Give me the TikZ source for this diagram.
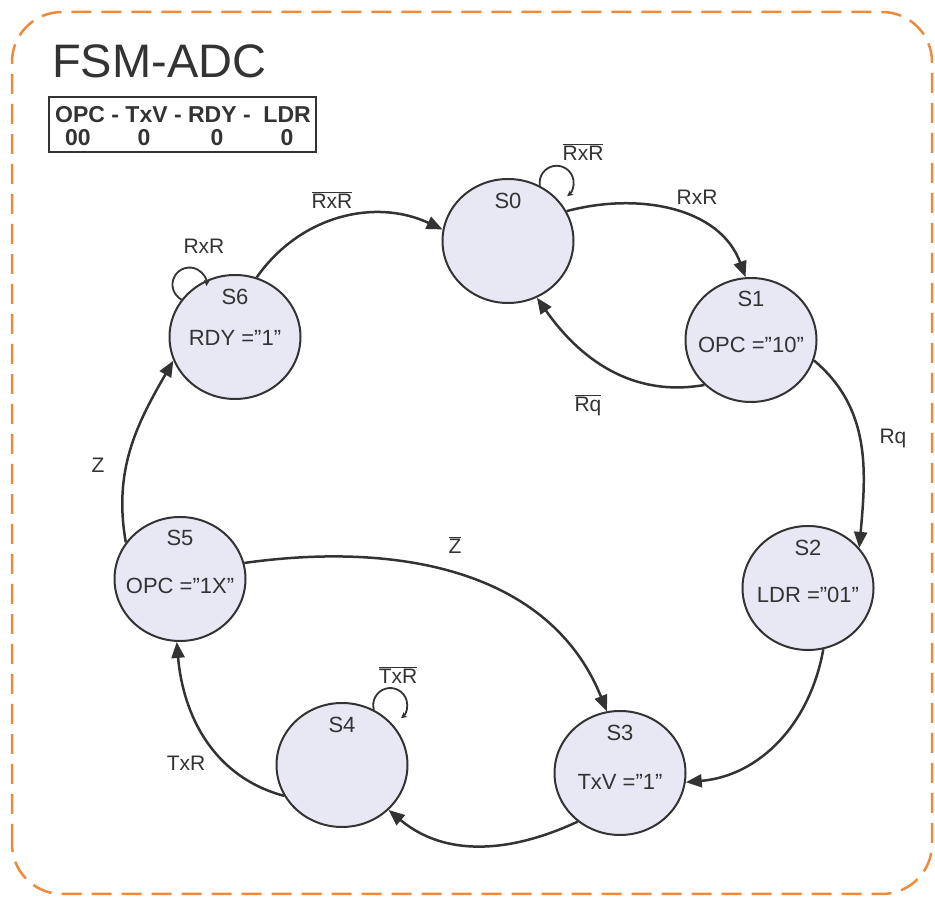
\documentclass[tikz,border=0pt]{standalone}
\usepackage{fontspec}
\setmainfont{Liberation Sans}
\usetikzlibrary{arrows.meta,shapes.geometric}
\definecolor{ink}{HTML}{333333}
\definecolor{statefill}{HTML}{E8E8F4}
\definecolor{frameorange}{HTML}{F08A3A}
\begin{document}
\begin{tikzpicture}[x=1pt,y=1pt,
  state/.style={ellipse, draw=ink, line width=2pt, fill=statefill, minimum width=131pt, minimum height=124pt, inner sep=0pt},
  stxt/.style={text=ink, font=\fontsize{22}{26}\selectfont, inner sep=0pt},
  elbl/.style={text=ink, font=\fontsize{21}{25}\selectfont, inner sep=0pt},
  tbltxt/.style={text=ink, font=\fontsize{23}{26}\selectfont\bfseries, inner sep=0pt},
  trans/.style={draw=ink, line width=2.5pt, -{Triangle[length=16pt,width=13pt]}},
  selfloop/.style={draw=ink, line width=1.8pt, -{Stealth[length=6pt,width=6pt]}},
]
\useasboundingbox (0,0) rectangle (935,899);
% frame
\draw[frameorange, line width=2.5pt, dash pattern=on 20pt off 10pt, rounded corners=50pt] (12,5) rectangle (932,887);
% title
\node[anchor=west, text=ink, font=\fontsize{47}{50}\selectfont, inner sep=0pt] (title) at (52,838) {FSM-ADC};
% table
\node[draw=ink, line width=2pt, minimum width=267pt, minimum height=55pt, inner sep=0pt] (tbl) at (182.5,774.5) {};
\node[tbltxt] (th) at (183,784) {OPC - TxV - RDY -\ \ LDR};
\node[tbltxt] (t1) at (78,761) {00};
\node[tbltxt] (t2) at (144,761) {0};
\node[tbltxt] (t3) at (217,761) {0};
\node[tbltxt] (t4) at (287,761) {0};
% states
\node[state] (s0) at (508,658) {};
\node[state] (s1) at (751,559) {};
\node[state] (s2) at (808,311) {};
\node[state] (s3) at (620,126) {};
\node[state] (s4) at (342,134) {};
\node[state] (s5) at (180,320) {};
\node[state] (s6) at (235,562) {};
% state texts
\node[stxt] (s0n) at (508,698) {S0};
\node[stxt] (s1n) at (751,600) {S1};
\node[stxt] (s1o) at (751,554) {OPC =”10”};
\node[stxt] (s2n) at (808,351) {S2};
\node[stxt] (s2o) at (808,304) {LDR =”01”};
\node[stxt] (s3n) at (620,166) {S3};
\node[stxt] (s3o) at (620,117) {TxV =”1”};
\node[stxt] (s4n) at (342,174) {S4};
\node[stxt] (s5n) at (180,361) {S5};
\node[stxt] (s5o) at (180,313) {OPC =”1X”};
\node[stxt] (s6n) at (235,602) {S6};
\node[stxt] (s6o) at (235,561) {RDY =”1”};
% transitions
\draw[trans] (s6.70) to[out=55,in=155] (s0.170);
\draw[trans] (s0.27) to[out=15,in=110] (s1.95);
\draw[trans] (s1.224) to[out=190,in=-55] (s0.297);
\draw[trans] (s1.-18) to[out=-40,in=85] (s2.38);
\draw[trans] (s2.-76) to[out=-100,in=5] (s3.-8);
\draw[trans] (s3.229) to[out=205,in=-40] (s4.-44);
\draw[trans] (s4.208) to[out=165,in=-85] (s5.-93);
\draw[trans] (s5.146) to[out=100,in=-120] (s6.201);
\draw[trans] (s5.14) to[out=8,in=112] (s3.102);
% self loops
\draw[selfloop] (s0.60) arc[start angle=190,end angle=-52,radius=17];
\draw[selfloop] (s6.145) arc[start angle=242,end angle=-5,radius=17];
\draw[selfloop] (s4.60) arc[start angle=196,end angle=-51,radius=17];
% edge labels
\node[elbl] (l01) at (697,702) {RxR};
\node[elbl] (l10) at (588,494) {$\overline{\mbox{Rq}}$};
\node[elbl] (l12) at (893,461) {Rq};
\node[elbl] (l60) at (332,699) {$\overline{\mbox{RxR}}$};
\node[elbl] (l00) at (583,747) {$\overline{\mbox{RxR}}$};
\node[elbl] (l66) at (204,653) {RxR};
\node[elbl] (l56) at (98,434) {Z};
\node[elbl] (l53) at (455,354) {$\overline{\mbox{Z}}$};
\node[elbl] (l45) at (186,136) {TxR};
\node[elbl] (l44) at (398,224) {$\overline{\mbox{TxR}}$};
\end{tikzpicture}
\end{document}
